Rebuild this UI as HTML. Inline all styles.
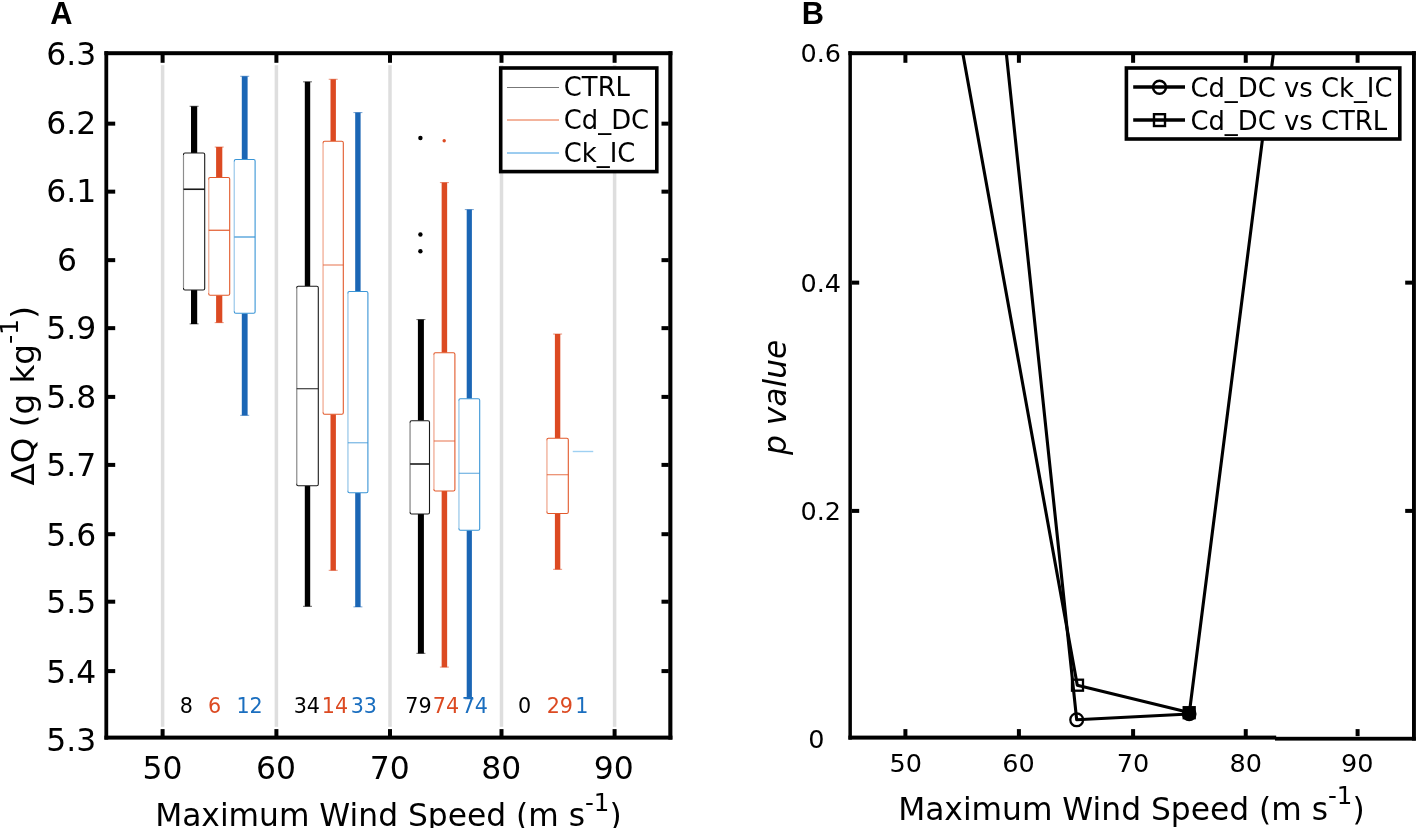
<!DOCTYPE html>
<html lang="en">
<head>
<meta charset="utf-8">
<title>Figure: ΔQ versus Maximum Wind Speed and p value</title>
<style>
html,body{margin:0;padding:0;background:#fff;}
body{width:1417px;height:828px;overflow:hidden;}
svg{display:block;}
text{font-family:"DejaVu Sans","Liberation Sans",sans-serif;}
.lbl{font-family:"Liberation Sans","DejaVu Sans",sans-serif;font-weight:bold;font-size:30.8px;}
.tA{font-size:31.4px;}
.tB{font-size:25.5px;}
.ax{font-size:31.3px;}
.lg{font-size:25.85px;}
.n{font-size:20.7px;}
</style>
</head>
<body>
<svg width="1417" height="828" viewBox="0 0 1417 828">
<rect x="0" y="0" width="1417" height="828" fill="#fff"/>
<!-- Panel A -->
<g id="panelA">
<rect x="160.85" y="65.2" width="3.5" height="661.6" fill="#DEDEDE"/>
<rect x="274.65" y="65.2" width="3.5" height="661.6" fill="#DEDEDE"/>
<rect x="388.25" y="65.2" width="3.5" height="661.6" fill="#DEDEDE"/>
<rect x="499.75" y="65.2" width="3.5" height="661.6" fill="#DEDEDE"/>
<rect x="612.85" y="65.2" width="3.5" height="661.6" fill="#DEDEDE"/>
<rect x="191.00" y="106.25" width="6.2" height="46.75" fill="#000"/>
<rect x="189.60" y="105.75" width="9" height="1.1" fill="#000" opacity="0.55"/>
<rect x="191.00" y="290.00" width="6.2" height="34.00" fill="#000"/>
<rect x="189.60" y="323.30" width="9" height="1.1" fill="#000" opacity="0.55"/>
<rect x="183.50" y="153.00" width="21.20" height="137.00" fill="#fff" stroke="#1a1a1a" stroke-width="1.1" rx="1.5"/>
<line x1="183.50" y1="155.00" x2="183.50" y2="288.00" stroke="#fff" stroke-width="1.6" opacity="0.5"/>
<line x1="183.50" y1="189.25" x2="204.70" y2="189.25" stroke="#1a1a1a" stroke-width="1.6"/>
<rect x="216.10" y="147.00" width="6.2" height="30.50" fill="#DC4A22"/>
<rect x="214.70" y="146.50" width="9" height="1.1" fill="#DC4A22" opacity="0.55"/>
<rect x="216.10" y="295.25" width="6.2" height="27.50" fill="#DC4A22"/>
<rect x="214.70" y="322.05" width="9" height="1.1" fill="#DC4A22" opacity="0.55"/>
<rect x="208.70" y="177.50" width="21.00" height="117.75" fill="#fff" stroke="#E2592B" stroke-width="1.1" rx="1.5"/>
<line x1="208.70" y1="179.50" x2="208.70" y2="293.25" stroke="#fff" stroke-width="1.6" opacity="0.5"/>
<line x1="208.70" y1="230.25" x2="229.70" y2="230.25" stroke="#E2592B" stroke-width="1.2"/>
<rect x="241.80" y="76.25" width="5.8" height="83.25" fill="#1B66B5"/>
<rect x="240.20" y="75.75" width="9" height="1.1" fill="#1B66B5" opacity="0.55"/>
<rect x="241.80" y="313.25" width="5.8" height="102.25" fill="#1B66B5"/>
<rect x="240.20" y="414.80" width="9" height="1.1" fill="#1B66B5" opacity="0.55"/>
<rect x="234.30" y="159.50" width="20.80" height="153.75" fill="#fff" stroke="#3A95D6" stroke-width="1.1" rx="1.5"/>
<line x1="234.30" y1="161.50" x2="234.30" y2="311.25" stroke="#fff" stroke-width="1.6" opacity="0.5"/>
<line x1="234.30" y1="237.00" x2="255.10" y2="237.00" stroke="#3A95D6" stroke-width="1.2"/>
<rect x="304.80" y="81.75" width="5.4" height="204.50" fill="#000"/>
<rect x="303.00" y="81.25" width="9" height="1.1" fill="#000" opacity="0.55"/>
<rect x="304.80" y="485.80" width="5.4" height="120.70" fill="#000"/>
<rect x="303.00" y="605.80" width="9" height="1.1" fill="#000" opacity="0.55"/>
<rect x="296.70" y="286.25" width="21.60" height="199.55" fill="#fff" stroke="#1a1a1a" stroke-width="1.1" rx="1.5"/>
<line x1="296.70" y1="288.25" x2="296.70" y2="483.80" stroke="#fff" stroke-width="1.6" opacity="0.5"/>
<line x1="296.70" y1="388.75" x2="318.30" y2="388.75" stroke="#1a1a1a" stroke-width="1.0"/>
<rect x="330.50" y="79.25" width="5.4" height="62.00" fill="#DC4A22"/>
<rect x="328.70" y="78.75" width="9" height="1.1" fill="#DC4A22" opacity="0.55"/>
<rect x="330.50" y="414.20" width="5.4" height="156.30" fill="#DC4A22"/>
<rect x="328.70" y="569.80" width="9" height="1.1" fill="#DC4A22" opacity="0.55"/>
<rect x="323.10" y="141.25" width="20.20" height="272.95" fill="#fff" stroke="#E2592B" stroke-width="1.1" rx="1.5"/>
<line x1="323.10" y1="143.25" x2="323.10" y2="412.20" stroke="#fff" stroke-width="1.6" opacity="0.5"/>
<line x1="323.10" y1="265.00" x2="343.30" y2="265.00" stroke="#E2592B" stroke-width="0.85"/>
<rect x="355.20" y="112.50" width="5.4" height="179.00" fill="#1B66B5"/>
<rect x="353.40" y="112.00" width="9" height="1.1" fill="#1B66B5" opacity="0.55"/>
<rect x="355.20" y="492.80" width="5.4" height="114.20" fill="#1B66B5"/>
<rect x="353.40" y="606.30" width="9" height="1.1" fill="#1B66B5" opacity="0.55"/>
<rect x="347.90" y="291.50" width="20.00" height="201.30" fill="#fff" stroke="#3A95D6" stroke-width="1.1" rx="1.5"/>
<line x1="347.90" y1="293.50" x2="347.90" y2="490.80" stroke="#fff" stroke-width="1.6" opacity="0.5"/>
<line x1="347.90" y1="442.80" x2="367.90" y2="442.80" stroke="#3A95D6" stroke-width="0.85"/>
<rect x="417.90" y="319.50" width="6.0" height="101.25" fill="#000"/>
<rect x="416.40" y="319.00" width="9" height="1.1" fill="#000" opacity="0.55"/>
<rect x="417.90" y="514.00" width="6.0" height="139.50" fill="#000"/>
<rect x="416.40" y="652.80" width="9" height="1.1" fill="#000" opacity="0.55"/>
<rect x="410.10" y="420.75" width="19.40" height="93.25" fill="#fff" stroke="#1a1a1a" stroke-width="1.1" rx="1.5"/>
<line x1="410.10" y1="422.75" x2="410.10" y2="512.00" stroke="#fff" stroke-width="1.6" opacity="0.5"/>
<line x1="410.10" y1="464.00" x2="429.50" y2="464.00" stroke="#1a1a1a" stroke-width="1.6"/>
<rect x="441.65" y="182.50" width="5.5" height="170.25" fill="#DC4A22"/>
<rect x="439.90" y="182.00" width="9" height="1.1" fill="#DC4A22" opacity="0.55"/>
<rect x="441.65" y="491.00" width="5.5" height="176.25" fill="#DC4A22"/>
<rect x="439.90" y="666.55" width="9" height="1.1" fill="#DC4A22" opacity="0.55"/>
<rect x="433.90" y="352.75" width="21.00" height="138.25" fill="#fff" stroke="#E2592B" stroke-width="1.1" rx="1.5"/>
<line x1="433.90" y1="354.75" x2="433.90" y2="489.00" stroke="#fff" stroke-width="1.6" opacity="0.5"/>
<line x1="433.90" y1="441.00" x2="454.90" y2="441.00" stroke="#E2592B" stroke-width="0.85"/>
<rect x="466.70" y="209.50" width="5.2" height="189.25" fill="#1B66B5"/>
<rect x="464.80" y="209.00" width="9" height="1.1" fill="#1B66B5" opacity="0.55"/>
<rect x="466.70" y="530.25" width="5.2" height="168.75" fill="#1B66B5"/>
<rect x="464.80" y="698.30" width="9" height="1.1" fill="#1B66B5" opacity="0.55"/>
<rect x="458.90" y="398.75" width="20.80" height="131.50" fill="#fff" stroke="#3A95D6" stroke-width="1.1" rx="1.5"/>
<line x1="458.90" y1="400.75" x2="458.90" y2="528.25" stroke="#fff" stroke-width="1.6" opacity="0.5"/>
<line x1="458.90" y1="473.25" x2="479.70" y2="473.25" stroke="#3A95D6" stroke-width="0.85"/>
<rect x="554.90" y="334.00" width="5.4" height="104.25" fill="#DC4A22"/>
<rect x="553.10" y="333.50" width="9" height="1.1" fill="#DC4A22" opacity="0.55"/>
<rect x="554.90" y="513.50" width="5.4" height="56.00" fill="#DC4A22"/>
<rect x="553.10" y="568.80" width="9" height="1.1" fill="#DC4A22" opacity="0.55"/>
<rect x="546.90" y="438.25" width="21.40" height="75.25" fill="#fff" stroke="#E2592B" stroke-width="1.1" rx="1.5"/>
<line x1="546.90" y1="440.25" x2="546.90" y2="511.50" stroke="#fff" stroke-width="1.6" opacity="0.5"/>
<line x1="546.90" y1="474.75" x2="568.30" y2="474.75" stroke="#E2592B" stroke-width="0.85"/>
<line x1="572.75" y1="451.5" x2="593.25" y2="451.5" stroke="#9ED0F2" stroke-width="1.4"/>
<circle cx="420.4" cy="138" r="2.2" fill="#000"/>
<circle cx="420.4" cy="234.5" r="2.2" fill="#000"/>
<circle cx="420.4" cy="251.25" r="2.2" fill="#000"/>
<circle cx="444.2" cy="140.75" r="1.7" fill="#DC4A22"/>
<rect x="104.4" y="51.2" width="568" height="4.0" fill="#000"/>
<rect x="104.4" y="735.6" width="568" height="4.0" fill="#000"/>
<rect x="104.4" y="51.2" width="3.8" height="688.4" fill="#000"/>
<rect x="668.3" y="51.2" width="4.1" height="688.4" fill="#000"/>
<rect x="160.60" y="55" width="4.0" height="7.8" fill="#000"/>
<rect x="160.60" y="729.1" width="4.0" height="7" fill="#000"/>
<rect x="274.40" y="55" width="4.0" height="7.8" fill="#000"/>
<rect x="274.40" y="729.1" width="4.0" height="7" fill="#000"/>
<rect x="388.00" y="55" width="4.0" height="7.8" fill="#000"/>
<rect x="388.00" y="729.1" width="4.0" height="7" fill="#000"/>
<rect x="499.50" y="55" width="4.0" height="7.8" fill="#000"/>
<rect x="499.50" y="729.1" width="4.0" height="7" fill="#000"/>
<rect x="612.60" y="55" width="4.0" height="7.8" fill="#000"/>
<rect x="612.60" y="729.1" width="4.0" height="7" fill="#000"/>
<rect x="108" y="121.65" width="7.2" height="4.0" fill="#000"/>
<rect x="661.5" y="121.65" width="7.2" height="4.0" fill="#000"/>
<rect x="108" y="189.65" width="7.2" height="4.0" fill="#000"/>
<rect x="661.5" y="189.65" width="7.2" height="4.0" fill="#000"/>
<rect x="108" y="258.15" width="7.2" height="4.0" fill="#000"/>
<rect x="661.5" y="258.15" width="7.2" height="4.0" fill="#000"/>
<rect x="108" y="326.15" width="7.2" height="4.0" fill="#000"/>
<rect x="661.5" y="326.15" width="7.2" height="4.0" fill="#000"/>
<rect x="108" y="394.90" width="7.2" height="4.0" fill="#000"/>
<rect x="661.5" y="394.90" width="7.2" height="4.0" fill="#000"/>
<rect x="108" y="462.90" width="7.2" height="4.0" fill="#000"/>
<rect x="661.5" y="462.90" width="7.2" height="4.0" fill="#000"/>
<rect x="108" y="532.20" width="7.2" height="4.0" fill="#000"/>
<rect x="661.5" y="532.20" width="7.2" height="4.0" fill="#000"/>
<rect x="108" y="599.70" width="7.2" height="4.0" fill="#000"/>
<rect x="661.5" y="599.70" width="7.2" height="4.0" fill="#000"/>
<rect x="108" y="669.10" width="7.2" height="4.0" fill="#000"/>
<rect x="661.5" y="669.10" width="7.2" height="4.0" fill="#000"/>
<text class="tA" x="96.2" y="65.20" text-anchor="end">6.3</text>
<text class="tA" x="96.2" y="133.85" text-anchor="end">6.2</text>
<text class="tA" x="96.2" y="202.05" text-anchor="end">6.1</text>
<text class="tA" x="76.9" y="270.75" text-anchor="end">6</text>
<text class="tA" x="96.2" y="338.95" text-anchor="end">5.9</text>
<text class="tA" x="96.2" y="407.90" text-anchor="end">5.8</text>
<text class="tA" x="96.2" y="476.10" text-anchor="end">5.7</text>
<text class="tA" x="96.2" y="545.60" text-anchor="end">5.6</text>
<text class="tA" x="96.2" y="613.30" text-anchor="end">5.5</text>
<text class="tA" x="96.2" y="682.90" text-anchor="end">5.4</text>
<text class="tA" x="96.2" y="751.30" text-anchor="end">5.3</text>
<text class="tA" x="162.60" y="778.6" text-anchor="middle">50</text>
<text class="tA" x="276.00" y="778.6" text-anchor="middle">60</text>
<text class="tA" x="389.70" y="778.6" text-anchor="middle">70</text>
<text class="tA" x="501.20" y="778.6" text-anchor="middle">80</text>
<text class="tA" x="613.80" y="778.6" text-anchor="middle">90</text>
<text class="n" x="186.3" y="712.8" text-anchor="middle" fill="#000">8</text>
<text class="n" x="214.5" y="712.8" text-anchor="middle" fill="#DC4A22">6</text>
<text class="n" x="249.6" y="712.8" text-anchor="middle" fill="#1A6EBF">12</text>
<text class="n" x="306.8" y="712.8" text-anchor="middle" fill="#000">34</text>
<text class="n" x="335.0" y="712.8" text-anchor="middle" fill="#DC4A22">14</text>
<text class="n" x="363.8" y="712.8" text-anchor="middle" fill="#1A6EBF">33</text>
<text class="n" x="418.4" y="712.8" text-anchor="middle" fill="#000">79</text>
<text class="n" x="445.9" y="712.8" text-anchor="middle" fill="#DC4A22">74</text>
<text class="n" x="474.8" y="712.8" text-anchor="middle" fill="#1A6EBF">74</text>
<text class="n" x="524.6" y="712.8" text-anchor="middle" fill="#000">0</text>
<text class="n" x="559.8" y="712.8" text-anchor="middle" fill="#DC4A22">29</text>
<text class="n" x="581.9" y="712.8" text-anchor="middle" fill="#1A6EBF">1</text>
<rect x="500.7" y="68" width="156.1" height="103.6" fill="#fff" stroke="#000" stroke-width="3.6"/>
<line x1="507" y1="87.5" x2="559" y2="87.5" stroke="#777" stroke-width="1.0"/>
<text class="lg" x="563.8" y="96.1">CTRL</text>
<line x1="507" y1="120" x2="559" y2="120" stroke="#E8693A" stroke-width="1.0"/>
<text class="lg" x="563.8" y="128.6">Cd_DC</text>
<line x1="507" y1="153" x2="559" y2="153" stroke="#3A9AE0" stroke-width="1.0"/>
<text class="lg" x="563.8" y="161.6">Ck_IC</text>
<text class="ax" x="155.2" y="826.4">Maximum Wind Speed (m s<tspan font-size="24.5px" dy="-15.6">-1</tspan><tspan dy="15.6">)</tspan></text>
<text class="ax" transform="translate(33.6,485.5) rotate(-90) scale(1.04,1)">ΔQ (g kg<tspan font-size="24.5px" dy="-15.6">-1</tspan><tspan dy="15.6">)</tspan></text>
<text class="lbl" x="50.3" y="24.1">A</text>
</g>
<!-- Panel B -->
<g id="panelB">
<clipPath id="clipB"><rect x="852" y="55" width="560" height="681"/></clipPath>
<g clip-path="url(#clipB)" fill="none" stroke="#000" stroke-width="3.1" stroke-linejoin="round">
<polyline points="962.6,52 963.1,55 1077.3,685.2 1189.2,712.6"/>
<polyline points="1006.2,52 1006.5,55 1076.7,719.8 1189.2,714 1273.6,52"/>
</g>
<g fill="none" stroke="#000" stroke-width="2.3">
<rect x="1072" y="679.7" width="11" height="11"/>
<circle cx="1076.7" cy="719.8" r="6.4"/>
<rect x="1183.7" y="707.2" width="11" height="11" fill="#000"/>
<circle cx="1189.2" cy="714" r="6.2" fill="#000"/>
</g>
<rect x="848.4" y="51.2" width="567.4" height="4.0" fill="#000"/>
<rect x="848.4" y="735.6" width="427.8" height="4.0" fill="#000"/>
<rect x="1275" y="736.8" width="140.8" height="3.8" fill="#000"/>
<rect x="848.4" y="51.2" width="3.5" height="688.4" fill="#000"/>
<rect x="1412" y="51.2" width="3.9" height="689.4" fill="#000"/>
<rect x="903.40" y="55" width="4.0" height="7.8" fill="#000"/>
<rect x="903.40" y="729.1" width="4.0" height="7" fill="#000"/>
<rect x="1016.90" y="55" width="4.0" height="7.8" fill="#000"/>
<rect x="1016.90" y="729.1" width="4.0" height="7" fill="#000"/>
<rect x="1131.10" y="55" width="4.0" height="7.8" fill="#000"/>
<rect x="1131.10" y="729.1" width="4.0" height="7" fill="#000"/>
<rect x="1243.75" y="55" width="4.0" height="7.8" fill="#000"/>
<rect x="1243.75" y="729.1" width="4.0" height="7" fill="#000"/>
<rect x="1355.60" y="55" width="4.0" height="7.8" fill="#000"/>
<rect x="1355.60" y="729.1" width="4.0" height="7" fill="#000"/>
<rect x="852" y="280.65" width="7.2" height="4.0" fill="#000"/>
<rect x="1405.2" y="280.65" width="7.2" height="4.0" fill="#000"/>
<rect x="852" y="508.90" width="7.2" height="4.0" fill="#000"/>
<rect x="1405.2" y="508.90" width="7.2" height="4.0" fill="#000"/>
<text class="tB" x="841" y="62.2" text-anchor="end">0.6</text>
<text class="tB" x="841" y="291.7" text-anchor="end">0.4</text>
<text class="tB" x="841" y="520.0" text-anchor="end">0.2</text>
<text class="tB" x="824.6" y="747.8" text-anchor="end">0</text>
<text class="tB" text-anchor="middle" x="905.70" y="771.6">50</text>
<text class="tB" text-anchor="middle" x="1018.40" y="771.6">60</text>
<text class="tB" text-anchor="middle" x="1133.00" y="771.6">70</text>
<text class="tB" text-anchor="middle" x="1245.70" y="771.6">80</text>
<text class="tB" text-anchor="middle" x="1357.30" y="771.6">90</text>
<rect x="1126.4" y="68" width="273.4" height="71" fill="#fff" stroke="#000" stroke-width="3.6"/>
<g stroke="#000" fill="none">
<line x1="1133.2" y1="87" x2="1185" y2="87" stroke-width="3.4"/>
<line x1="1133.2" y1="120" x2="1185" y2="120" stroke-width="3.4"/>
<circle cx="1159.5" cy="87.2" r="6.5" stroke-width="2.4"/>
<rect x="1154" y="114.2" width="11" height="11.8" stroke-width="2.4"/>
</g>
<text class="lg" x="1190.4" y="96.7">Cd_DC vs Ck_IC</text>
<text class="lg" x="1190.4" y="129.5">Cd_DC vs CTRL</text>
<text class="ax" x="898.2" y="819.8">Maximum Wind Speed (m s<tspan font-size="24.5px" dy="-15.6">-1</tspan><tspan dy="15.6">)</tspan></text>
<text class="ax" font-style="oblique" transform="translate(786.2,455) rotate(-90)">p value</text>
<text class="lbl" x="801.7" y="24.1">B</text>
</g>
</svg>
</body>
</html>
